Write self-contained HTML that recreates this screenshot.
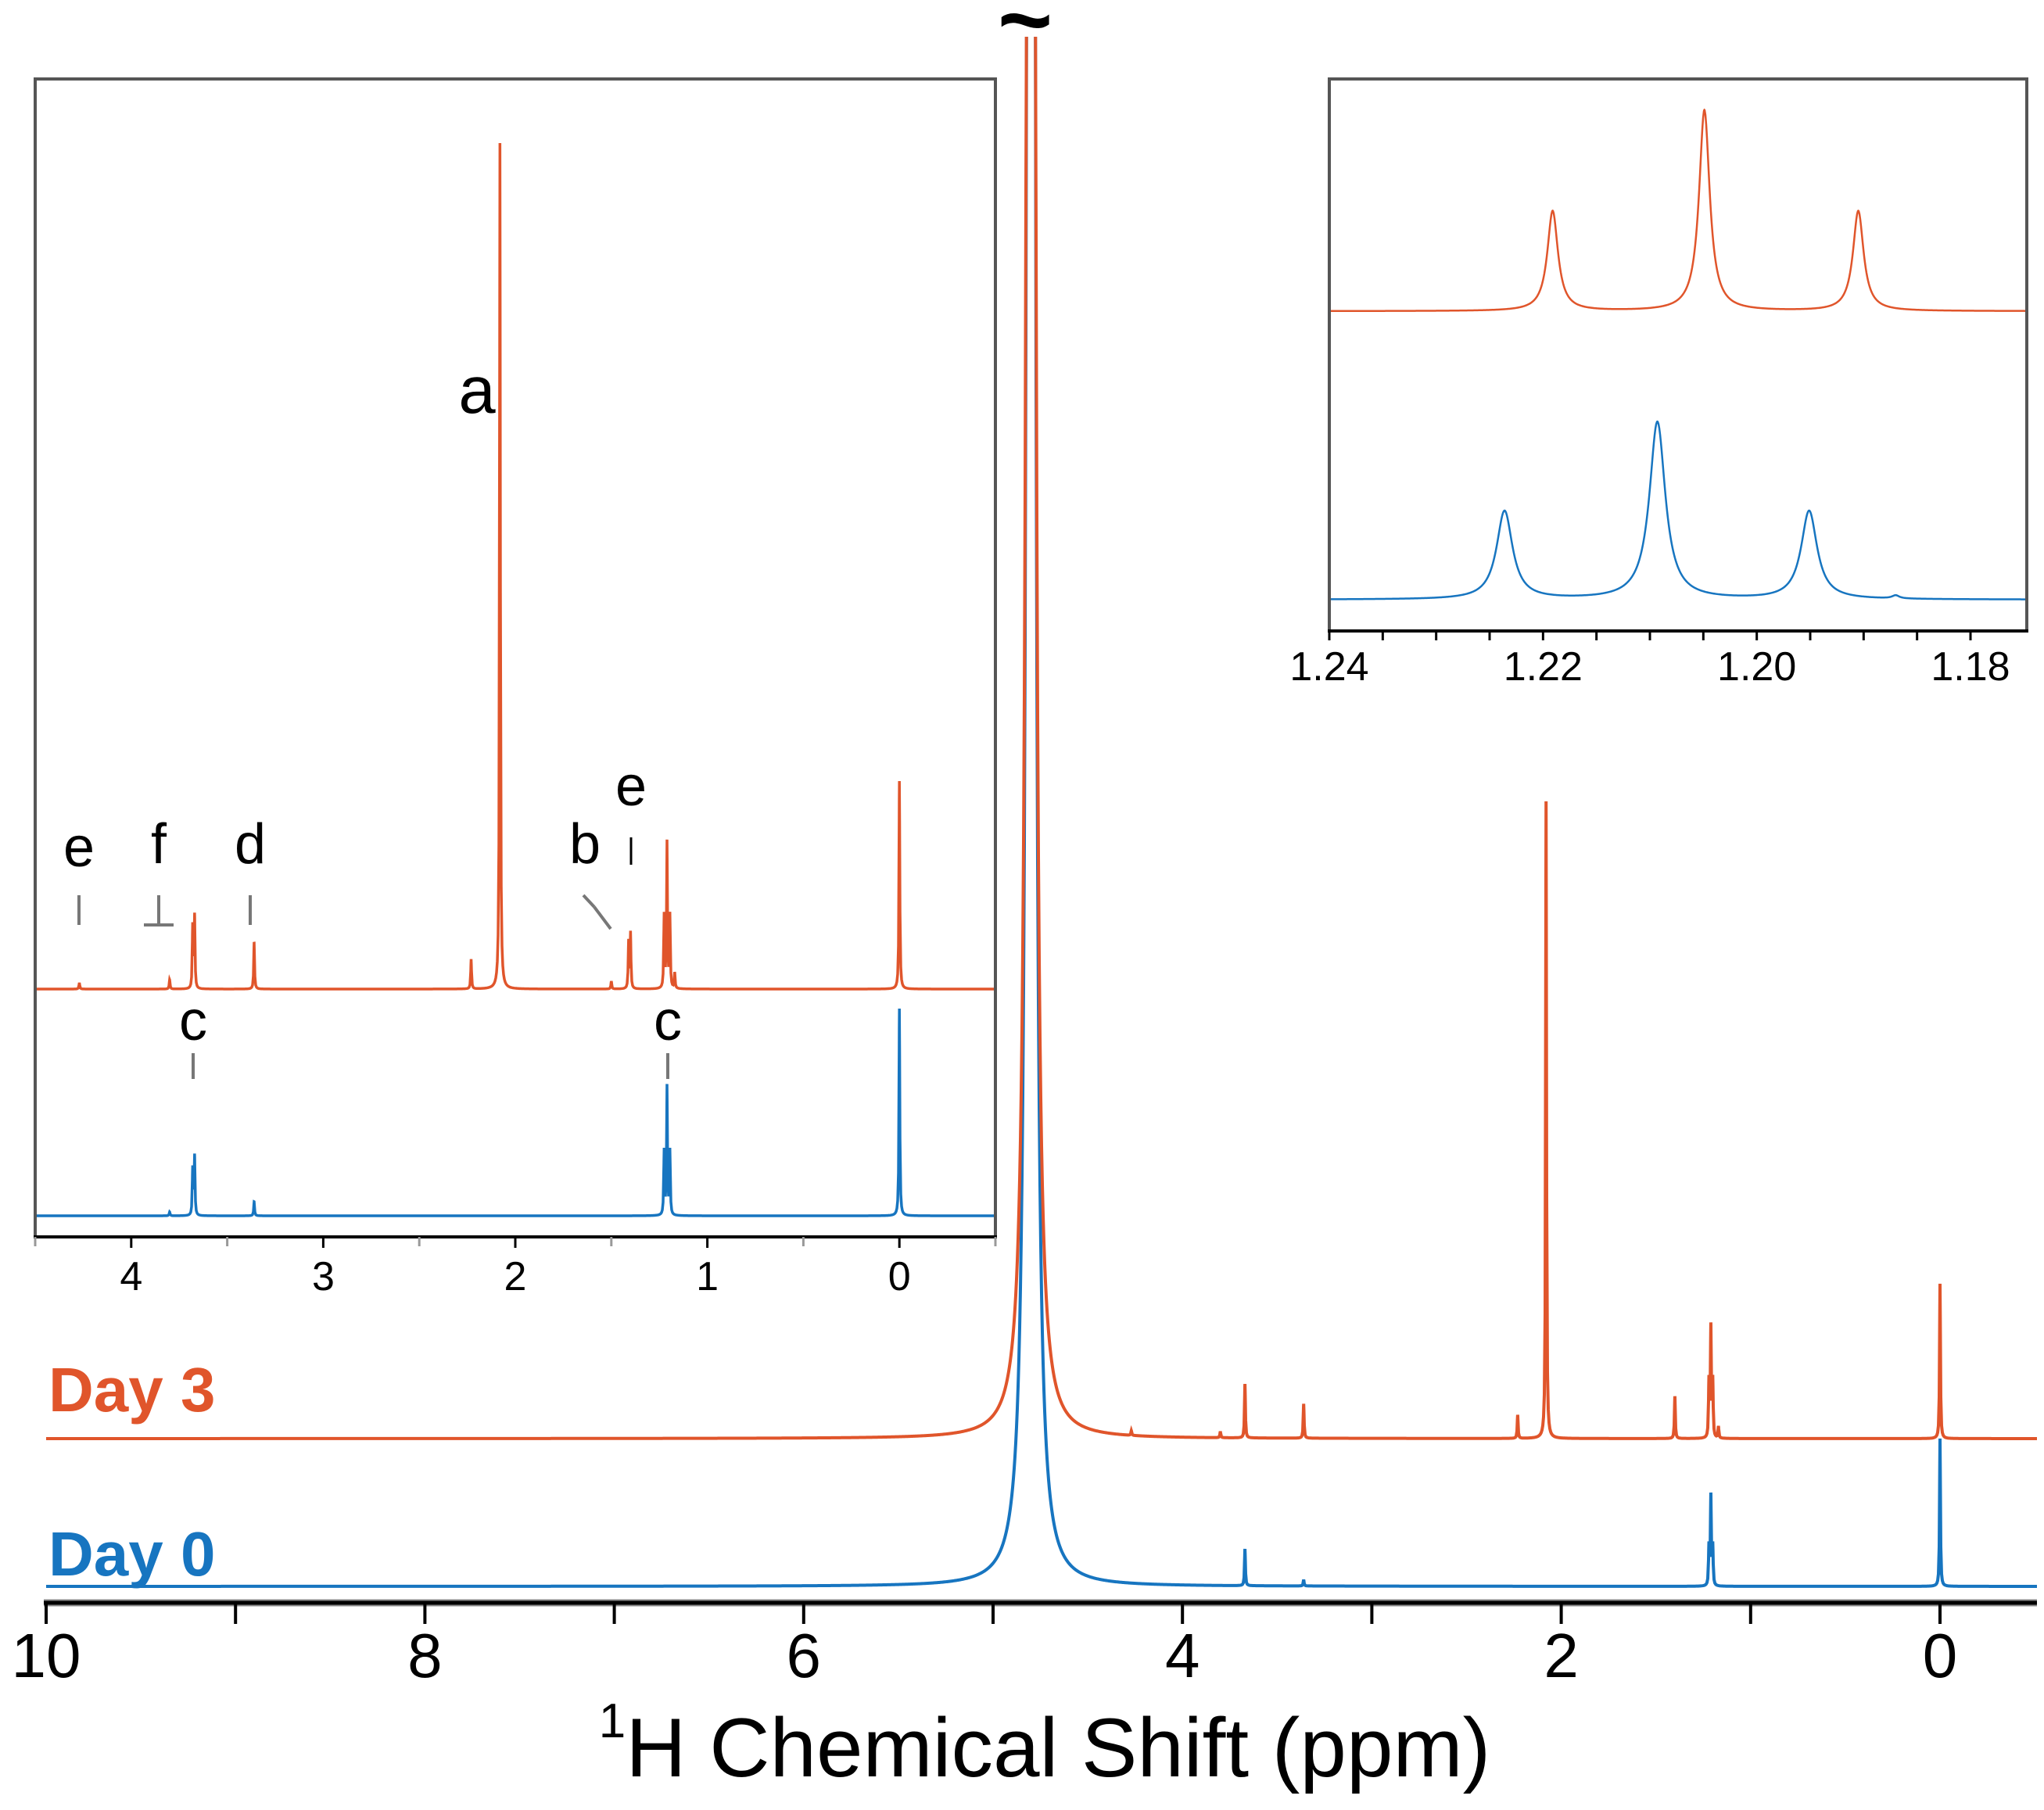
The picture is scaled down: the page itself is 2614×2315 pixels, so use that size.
<!DOCTYPE html>
<html><head><meta charset="utf-8"><style>
html,body{margin:0;padding:0;background:#fff}
svg{display:block}
text{font-family:"Liberation Sans",Arial,sans-serif}
</style></head><body>
<svg id="chart" width="2614" height="2315" viewBox="0 0 2614 2315" xmlns="http://www.w3.org/2000/svg">
<defs>
<clipPath id="mainClip"><rect x="0" y="47" width="2614" height="2000"/></clipPath>
<clipPath id="in1Clip"><rect x="47" y="103" width="1224" height="1478"/></clipPath>
<clipPath id="in2Clip"><rect x="1702" y="103" width="888" height="703"/></clipPath>
</defs>
<g id="main"></g>
<g id="inset1"></g>
<g id="inset2"></g>
<text x="1311" y="66" font-size="120" font-weight="bold" text-anchor="middle">~</text>
<text x="62" y="1805" font-size="80" font-weight="bold" fill="#E0552B">Day 3</text>
<text x="62" y="2015" font-size="80" font-weight="bold" fill="#1775C0">Day 0</text>
<text x="1336" y="2272" font-size="107" text-anchor="middle"><tspan font-size="62" dy="-50">1</tspan><tspan dy="50">H Chemical Shift (ppm)</tspan></text>
</svg>
<script>
// ---- main spectrum data ----
const mainTicks = [10, 8, 6, 4, 2, 0];
const mainMinorTicks = [9, 7, 5, 3, 1];
const day3MainPpm = [4.80, 2.08, 0.0, 1.21, 1.20, 1.22, 3.67, 3.36, 1.40, 2.23, 1.17, 4.27, 3.80];
const day3MainInt = [33000, 815, 198, 140, 72, 72, 69, 44, 54, 30, 15, 6, 8];
const day0MainPpm = [4.80, 0.0, 1.21, 1.20, 1.22, 3.67, 3.36];
const day0MainInt = [33000, 189, 114, 50, 50, 47, 8];
// ---- inset 1 data ----
const in1Ticks = [4, 3, 2, 1, 0];
const in1MinorTicks = [4.5, 3.5, 2.5, 1.5, 0.5, -0.5];
const day3In1Ppm = [2.08, 0.0, 1.21, 1.195, 1.225, 1.40, 1.41, 3.67, 3.68, 3.36, 2.23, 1.17, 1.50, 4.27, 3.80];
const day3In1Int = [1082, 266, 186, 93, 93, 71, 60, 93, 80, 60, 38, 20, 10, 8, 12];
const day0In1Ppm = [0.0, 1.21, 1.195, 1.225, 3.67, 3.68, 3.36, 3.80];
const day0In1Int = [265, 164, 82, 82, 76, 60, 18, 5];
// ---- inset 2 data ----
const in2Ticks = [1.24, 1.22, 1.20, 1.18];
const in2MinorTicks = [1.235, 1.23, 1.225, 1.215, 1.21, 1.205, 1.195, 1.19, 1.185];
const day3In2Ppm = [1.2191, 1.2049, 1.1905];
const day3In2Int = [128, 257, 128];
const day0In2Ppm = [1.2236, 1.2093, 1.1951, 1.187];
const day0In2Int = [113, 227, 113, 4];

const NS = "http://www.w3.org/2000/svg";
function mk(tag, attrs, parent){const e=document.createElementNS(NS,tag);for(const k in attrs)e.setAttribute(k,attrs[k]);parent.appendChild(e);return e;}
function scaleX(p0,p1,x0,x1){return p=>x0+(p0-p)*(x1-x0)/(p0-p1);}
function spectrumPath(ppm,ints,hw,sx,base,xL,xR,ppmL,ppmR){
  const xs=[];
  for(let x=xL;x<=xR;x+=1)xs.push(x);
  ppm.forEach(p=>{const c=sx(p);xs.push(c);xs.push(c-0.3);xs.push(c+0.3);});
  xs.sort((a,b)=>a-b);
  const inv=x=>ppmL-(x-xL)*(ppmL-ppmR)/(xR-xL);
  let d="";
  xs.forEach((x)=>{if(x<xL||x>xR)return;const p=inv(x);let y=0;
    for(let k=0;k<ppm.length;k++){const dd=(p-ppm[k])/hw[k];y+=ints[k]/(1+dd*dd);}
    d+=(d?"L":"M")+x.toFixed(2)+","+Math.max(base-y,-50).toFixed(2);});
  return d;
}
// MAIN
const gm=document.getElementById('main');
const mx=scaleX(10,0,59,2481);
const mb=mk('g',{'clip-path':'url(#mainClip)'},gm);
const mRight=10-(2605-59)/242.2;
const hwMain3=day3MainPpm.map(p=>p===4.80?0.006:0.0025);
const hwMain0=day0MainPpm.map(p=>p===4.80?0.006:0.0025);
let p0=mk('path',{d:spectrumPath(day0MainPpm,day0MainInt,hwMain0,mx,2029,59,2605,10,mRight),fill:'none',stroke:'#1775C0','stroke-width':4},mb);


let p3=mk('path',{d:spectrumPath(day3MainPpm,day3MainInt,hwMain3,mx,1840,59,2605,10,mRight),fill:'none',stroke:'#E0552B','stroke-width':4},mb);


mk('line',{x1:56,y1:2050,x2:2605,y2:2050,stroke:'#888','stroke-width':9},gm);
let ax=mk('line',{x1:56,y1:2050,x2:2605,y2:2050,stroke:'#000','stroke-width':5},gm);


mainTicks.concat(mainMinorTicks).forEach(t=>{mk('line',{x1:mx(t),y1:2050,x2:mx(t),y2:2077,stroke:'#000','stroke-width':4},gm);});
mainTicks.forEach(t=>{const e=mk('text',{x:mx(t),y:2145,'font-size':80,'text-anchor':'middle'},gm);e.textContent=t;
  
  });

// INSET 1
const g1=document.getElementById('inset1');
const ix=scaleX(4.5,-0.5,45,1273);
const c1=mk('g',{'clip-path':'url(#in1Clip)'},g1);
const hw1a=day3In1Ppm.map(()=>0.0025), hw1b=day0In1Ppm.map(()=>0.0025);
let q3=mk('path',{d:spectrumPath(day3In1Ppm,day3In1Int,hw1a,ix,1265,45,1273,4.5,-0.5),fill:'none',stroke:'#E0552B','stroke-width':3.5},c1);


let q0=mk('path',{d:spectrumPath(day0In1Ppm,day0In1Int,hw1b,ix,1555,45,1273,4.5,-0.5),fill:'none',stroke:'#1775C0','stroke-width':3.5},c1);


let fr1=mk('path',{d:'M45,1582 L45,101 L1273,101 L1273,1582',fill:'none',stroke:'#555','stroke-width':4},g1);


mk('line',{x1:43,y1:1582,x2:1275,y2:1582,stroke:'#000','stroke-width':4},g1);
in1Ticks.forEach(t=>mk('line',{x1:ix(t),y1:1582,x2:ix(t),y2:1596,stroke:'#000','stroke-width':3},g1));
in1MinorTicks.forEach(t=>mk('line',{x1:ix(t),y1:1582,x2:ix(t),y2:1594,stroke:'#999','stroke-width':3},g1));
in1Ticks.forEach(t=>{const e=mk('text',{x:ix(t),y:1650,'font-size':52,'text-anchor':'middle'},g1);e.textContent=t;
  
  });
const labs=[['a',610,528,85],['e',101,1108,72],['f',203,1104,72],['d',320,1104,72],['b',748,1104,72],['e',807,1030,72],['c',247,1330,72],['c',854,1330,72]];
labs.forEach(l=>{const e=mk('text',{x:l[1],y:l[2],'font-size':l[3],'text-anchor':'middle'},g1);e.textContent=l[0];
  
  });
[[101,1145,101,1183],[203,1145,203,1183],[184,1183,222,1183],[320,1145,320,1183],[746,1145,760,1160],[760,1160,781,1188],[247,1347,247,1380],[854,1347,854,1380]].forEach(s=>mk('line',{x1:s[0],y1:s[1],x2:s[2],y2:s[3],stroke:'#777','stroke-width':4},g1));
mk('line',{x1:807,y1:1071,x2:807,y2:1106,stroke:'#000','stroke-width':3},g1);

// INSET 2
const g2=document.getElementById('inset2');
const zx=scaleX(1.24,1.18,1700,2520);
const c2=mk('g',{'clip-path':'url(#in2Clip)'},g2);
const zRight=1.24-(892/(820/0.06));
let r3=mk('path',{d:spectrumPath(day3In2Ppm,day3In2Int,[0.0006,0.0006,0.0006],zx,398,1700,2592,1.24,zRight),fill:'none',stroke:'#E0552B','stroke-width':2.5},c2);


let r0=mk('path',{d:spectrumPath(day0In2Ppm,day0In2Int,[0.0009,0.0009,0.0009,0.0004],zx,767,1700,2592,1.24,zRight),fill:'none',stroke:'#1775C0','stroke-width':2.5},c2);


let fr2=mk('path',{d:'M1700,807 L1700,101 L2592,101 L2592,807',fill:'none',stroke:'#555','stroke-width':4},g2);


mk('line',{x1:1698,y1:807,x2:2594,y2:807,stroke:'#000','stroke-width':4},g2);
in2Ticks.concat(in2MinorTicks).forEach(t=>mk('line',{x1:zx(t),y1:807,x2:zx(t),y2:819,stroke:'#000','stroke-width':3},g2));
in2Ticks.forEach(t=>{const e=mk('text',{x:zx(t),y:870,'font-size':52,'text-anchor':'middle'},g2);e.textContent=t.toFixed(2);
  
  });
</script>
</body></html>
